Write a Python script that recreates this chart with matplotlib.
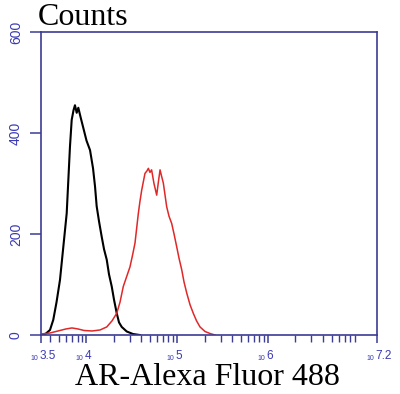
import matplotlib
matplotlib.use("Agg")
import matplotlib.pyplot as plt
import matplotlib.ticker as mticker
import numpy as np

# histogram traces, x in log10(fluorescence), y in counts
black_log = [3.506, 3.555, 3.599, 3.635, 3.671, 3.709, 3.746, 3.783, 3.801, 3.819,
             3.838, 3.858, 3.874, 3.893, 3.911, 3.935, 3.966, 4.001, 4.040, 4.073,
             4.095, 4.113, 4.139, 4.168, 4.194, 4.224, 4.249, 4.279, 4.304, 4.334,
             4.359, 4.389, 4.444, 4.513, 4.590]
black_cnt = [0, 3, 10, 30, 65, 109, 175, 241, 307, 373,
             426, 445, 455, 440, 450, 432, 410, 385, 366, 330,
             294, 255, 225, 195, 170, 149, 120, 96, 70, 43,
             25, 16, 7, 2, 0]

red_log = [3.511, 3.599, 3.687, 3.775, 3.841, 3.907, 3.974, 4.062, 4.150, 4.224,
           4.282, 4.334, 4.370, 4.406, 4.442, 4.480, 4.508, 4.535, 4.572, 4.590,
           4.609, 4.645, 4.667, 4.682, 4.700, 4.718, 4.744, 4.774, 4.794, 4.811,
           4.827, 4.847, 4.884, 4.910, 4.939, 4.965, 4.994, 5.020, 5.050, 5.075,
           5.105, 5.141, 5.177, 5.213, 5.251, 5.306, 5.361, 5.416]
red_cnt = [2, 4, 8, 12, 14, 12, 9, 8, 10, 16,
           28, 43, 65, 96, 115, 135, 158, 182, 241, 265,
           287, 320, 325, 330, 322, 327, 300, 277, 305, 327,
           315, 301, 254, 235, 221, 200, 175, 152, 129, 105,
           83, 60, 43, 28, 16, 7, 3, 0]

x_tick_exp = [3.5, 4, 5, 6, 7.2]
x_tick_text = ["3.5", "4", "5", "6", "7.2"]
y_ticks = [0, 200, 400, 600]

axis_col = "#3c3c94"
label_col = "#3a3ab4"

fig = plt.figure(figsize=(4.0, 3.94), dpi=100)
ax = fig.add_axes([0.1025, 0.1497, 0.84, 0.7691])

ax.plot(10 ** np.array(black_log), black_cnt, color="black", linewidth=1.5)
ax.plot(10 ** np.array(red_log), red_cnt, color="#e02828", linewidth=1.1)

ax.set_xscale("log")
ax.set_xlim(10 ** 3.5, 10 ** 7.2)
ax.set_ylim(0, 600)

ax.set_xticks([10 ** e for e in x_tick_exp])
ax.set_xticklabels([])
ax.xaxis.set_minor_locator(mticker.LogLocator(base=10, subs=np.arange(2, 10)))
ax.xaxis.set_minor_formatter(mticker.NullFormatter())

# decade labels: small "10" followed by the exponent
for e, t in zip(x_tick_exp, x_tick_text):
    ax.annotate("10", xy=(10 ** e, 0), xycoords=("data", "axes fraction"),
                xytext=(-2, -18), textcoords="offset points", ha="right", va="baseline",
                fontsize=5, color=label_col, family="Liberation Sans", annotation_clip=False)
    ax.annotate(t, xy=(10 ** e, 0), xycoords=("data", "axes fraction"),
                xytext=(-1, -17.5), textcoords="offset points", ha="left", va="baseline",
                fontsize=8.5, color=label_col, family="Liberation Sans", annotation_clip=False)

ax.set_yticks(y_ticks)
ax.set_yticklabels([str(v) for v in y_ticks], rotation=90, va="center",
                   family="Liberation Sans", fontsize=10)

for s in ax.spines.values():
    s.set_color(axis_col)
    s.set_linewidth(1.2)

ax.tick_params(axis="x", which="major", direction="out", length=6, width=1.1,
               color=axis_col)
ax.tick_params(axis="x", which="minor", direction="out", length=5, width=1.0,
               color=axis_col)
ax.tick_params(axis="y", direction="out", length=8, width=1.1,
               color=axis_col, labelcolor=label_col, pad=5)

fig.text(0.095, 0.955, "Counts", family="Liberation Serif", fontsize=23,
         ha="left", va="center")
fig.text(0.518, 0.043, "AR-Alexa Fluor 488", family="Liberation Serif", fontsize=23,
         ha="center", va="center")

fig.savefig("out.png", dpi=100)
